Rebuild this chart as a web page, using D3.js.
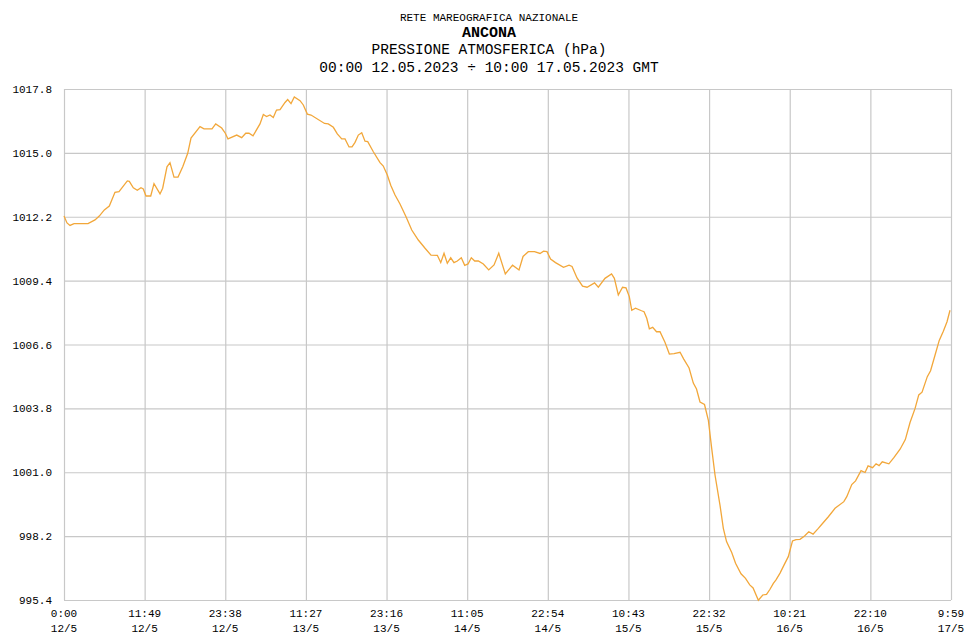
<!DOCTYPE html>
<html>
<head>
<meta charset="utf-8">
<script src="https://cdn.jsdelivr.net/npm/d3@7"></script>
<style>
  body { margin: 0; background: #fff; }
  text { font-family: "Liberation Mono", "DejaVu Sans Mono", monospace; fill: #000; }
</style>
</head>
<body>
<svg id="chart"></svg>
<script>
/* Pressione atmosferica - Ancona, 12-17/05/2023 */

const titles = ["RETE MAREOGRAFICA NAZIONALE", "ANCONA", "PRESSIONE ATMOSFERICA (hPa)",
  "00:00 12.05.2023 \u00f7 10:00 17.05.2023 GMT"];

// y ticks (hPa)
const yTicks = [995.4, 998.2, 1001.0, 1003.8, 1006.6, 1009.4, 1012.2, 1015.0, 1017.8];

// x ticks: minutes from 00:00 12/5
const xTickMinutes = [0, 709, 1418, 2127, 2836, 3545, 4254, 4963, 5672, 6381, 7090, 7799];
const xTickTimes = ["0:00", "11:49", "23:38", "11:27", "23:16", "11:05", "22:54", "10:43", "22:32", "10:21", "22:10", "9:59"];
const xTickDates = ["12/5", "12/5", "12/5", "13/5", "13/5", "14/5", "14/5", "15/5", "15/5", "16/5", "16/5", "17/5"];

// hours from 00:00 12/5
const hours = [0, 0.44, 0.88, 1.47, 3.52, 4.54, 5.17, 5.91, 6.64, 7.47, 8.06, 9.28, 9.57, 10.16, 10.74, 11.28, 11.62,
  12.02, 12.71, 13.19, 14.07, 14.46, 15.09, 15.53, 16.12, 16.71, 17.40, 18.13, 18.61, 19.93, 20.52, 21.69, 22.23,
  23.11, 23.64, 24.03, 25.31, 26.04, 26.63, 27.11, 27.70, 28.72, 29.21, 29.68, 30.19, 30.67, 31.14, 31.66, 32.39,
  32.78, 33.27, 33.75, 34.59, 35.07, 35.66, 36.20, 38.18, 38.73, 39.47, 40.05, 40.70, 41.18, 41.77, 42.21, 42.65,
  43.13, 43.63, 44.11, 44.51, 45.33, 46.31, 46.79, 47.38, 47.88, 48.51, 49.24, 50.12, 50.96, 51.92, 52.91, 53.78,
  54.71, 55.21, 55.69, 56.17, 56.67, 57.15, 57.64, 58.22, 58.72, 59.21, 59.69, 60.19, 60.72, 61.45, 62.24, 63.02,
  63.71, 64.67, 65.73, 66.68, 67.27, 68.04, 68.95, 69.76, 70.27, 70.78, 71.30, 72.03, 73.20, 74.01, 74.45, 75.18,
  75.99, 76.65, 77.75, 78.30, 79.28, 80.24, 80.65, 81.23, 81.85, 82.36, 82.84, 83.20, 83.75, 84.63, 85.00, 85.40,
  85.78, 86.27, 86.83, 87.34, 88.08, 88.71, 89.40, 90.28, 90.82, 91.60, 92.22, 92.69, 93.20, 93.86, 94.42, 94.91,
  95.40, 96.13, 96.62, 97.09, 97.85, 98.41, 99.21, 99.87, 100.49, 100.98, 101.75, 102.40, 102.95, 103.46, 103.95,
  104.34, 104.93, 105.51, 106.14, 106.76, 107.27, 107.86, 108.52, 109.14, 109.77, 110.54, 111.09, 112.01, 112.99,
  114.28, 114.71, 115.44, 116.00, 116.80, 117.39, 117.83, 118.49, 119.00, 119.44, 119.91, 120.88, 121.64, 122.52,
  123.29, 123.98, 124.72, 125.26, 125.74, 126.51, 126.99, 127.65, 128.26, 128.86, 129.40, 129.84];

const pressure = [1012.23, 1011.93, 1011.82, 1011.90, 1011.90, 1012.06, 1012.23, 1012.50, 1012.67, 1013.27, 1013.30,
  1013.77, 1013.75, 1013.47, 1013.36, 1013.47, 1013.42, 1013.11, 1013.11, 1013.65, 1013.20, 1013.45, 1014.39, 1014.57,
  1013.94, 1013.94, 1014.39, 1014.98, 1015.65, 1016.15, 1016.05, 1016.05, 1016.27, 1016.09, 1015.86, 1015.61, 1015.78,
  1015.67, 1015.86, 1015.86, 1015.75, 1016.27, 1016.68, 1016.59, 1016.66, 1016.55, 1016.88, 1016.90, 1017.21, 1017.34,
  1017.16, 1017.45, 1017.29, 1017.10, 1016.70, 1016.66, 1016.29, 1016.27, 1016.12, 1015.83, 1015.61, 1015.61, 1015.26,
  1015.26, 1015.46, 1015.78, 1015.88, 1015.51, 1015.49, 1015.05, 1014.57, 1014.42, 1014.03, 1013.58, 1013.15, 1012.76,
  1012.20, 1011.62, 1011.18, 1010.82, 1010.52, 1010.51, 1010.19, 1010.60, 1010.16, 1010.40, 1010.19, 1010.26, 1010.40,
  1010.07, 1010.13, 1010.40, 1010.26, 1010.26, 1010.13, 1009.87, 1010.09, 1010.60, 1009.69, 1010.08, 1009.87, 1010.46,
  1010.67, 1010.67, 1010.59, 1010.69, 1010.67, 1010.35, 1010.19, 1009.98, 1010.08, 1010.02, 1009.52, 1009.16, 1009.11,
  1009.30, 1009.11, 1009.50, 1009.69, 1009.50, 1008.77, 1009.11, 1009.08, 1008.70, 1008.10, 1008.19, 1008.08, 1008.04,
  1007.75, 1007.29, 1007.35, 1007.16, 1007.16, 1006.69, 1006.18, 1006.20, 1006.26, 1005.96, 1005.57, 1004.91, 1004.65,
  1004.08, 1003.97, 1003.29, 1002.06, 1000.88, 999.56, 998.54, 997.96, 997.48, 997.01, 996.55, 996.35, 996.06, 995.93,
  995.39, 995.62, 995.65, 995.87, 996.13, 996.28, 996.58, 996.93, 997.30, 997.99, 998.05, 998.06, 998.21, 998.39,
  998.29, 998.54, 998.73, 999.05, 999.42, 999.71, 999.93, 1000.46, 1000.62, 1001.07, 1000.99, 1001.28, 1001.20,
  1001.37, 1001.29, 1001.46, 1001.37, 1001.65, 1002.01, 1002.43, 1003.18, 1003.80, 1004.39, 1004.51, 1005.19,
  1005.45, 1006.14, 1006.78, 1007.18, 1007.60, 1008.10];

const width = 966, height = 634;
const margin = {top: 89, right: 15, bottom: 34, left: 64};

const data = hours.map((h, i) => ({h: h, v: pressure[i]}));

let svg = d3.select("#chart")
  .attr("width", width)
  .attr("height", height);

/*** scales */
x = d3.scaleLinear()
  .domain([0, 7799 / 60])
  .range([margin.left, width - margin.right]);

y = d3.scaleLinear()
  .domain([995.4, 1017.8])
  .range([height - margin.bottom, margin.top]);

/*** titles */
const titleY = [21, 37, 54, 72];
const titleSize = [11, 15, 14.5, 14.5];
svg.append("g").selectAll("text")
  .data(titles)
  .join("text")
  .attr("x", 489)
  .attr("y", (d, i) => titleY[i])
  .attr("text-anchor", "middle")
  .attr("font-size", (d, i) => titleSize[i] + "px")
  .attr("font-weight", (d, i) => i == 1 ? "bold" : "normal")
  .text(d => d);

/*** grid + y axis */
yAxis = g => g
  .attr("transform", `translate(${margin.left},0)`)
  .call(d3.axisLeft(y).tickValues(yTicks).tickFormat(d3.format(".1f"))
    .tickSize(-(width - margin.left - margin.right)).tickPadding(12))
  .call(g => g.select(".domain").remove())
  .call(g => g.selectAll(".tick line").attr("stroke", "#c8c8c8").attr("stroke-width", 1.2))
  .call(g => g.selectAll(".tick text").attr("font-size", "11px"));

xAxis = g => g
  .attr("transform", `translate(0,${height - margin.bottom})`)
  .call(d3.axisBottom(x).tickValues(xTickMinutes.map(m => m / 60))
    .tickSize(-(height - margin.top - margin.bottom)).tickFormat(""))
  .call(g => g.select(".domain").remove())
  .call(g => g.selectAll(".tick line").attr("stroke", "#c8c8c8").attr("stroke-width", 1.2));

svg.append("g").call(yAxis);
svg.append("g").call(xAxis);

/*** x tick labels, two rows */
let xl = svg.append("g").attr("font-size", "11px");
xl.selectAll(".t")
  .data(xTickMinutes)
  .join("text")
  .attr("class", "t")
  .attr("x", d => x(d / 60))
  .attr("y", 617)
  .attr("text-anchor", "middle")
  .attr("font-size", "11px")
  .text((d, i) => xTickTimes[i]);
xl.selectAll(".d")
  .data(xTickMinutes)
  .join("text")
  .attr("class", "d")
  .attr("x", d => x(d / 60))
  .attr("y", 632)
  .attr("text-anchor", "middle")
  .attr("font-size", "11px")
  .text((d, i) => xTickDates[i]);

/*** the pressure line */
line = d3.line()
  .x(d => x(d.h))
  .y(d => y(d.v));

svg.append("path")
  .datum(data)
  .attr("fill", "none")
  .attr("stroke", "#f2a73a")
  .attr("stroke-width", 1.3)
  .attr("d", line);
</script>
</body>
</html>
